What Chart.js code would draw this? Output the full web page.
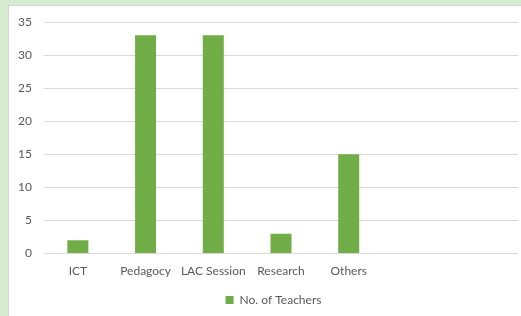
<!DOCTYPE html>
<html><head><meta charset="utf-8">
<script src="https://cdn.jsdelivr.net/npm/chart.js@4"></script>
<style>
html,body{margin:0;padding:0;background:#d5ecd0;width:521px;height:316px;overflow:hidden}
#wrap{position:absolute;left:8px;top:5px;width:513px;height:311px;background:#fff;border-left:1px solid #d4d4d4;border-top:1px solid #d4d4d4;box-sizing:border-box}
canvas{display:block}
</style></head><body>
<div id="wrap"><canvas id="c" width="512" height="310"></canvas></div>
<script>
const categories = ["ICT", "Pedagocy", "LAC Session", "Research", "Others", "", ""];
const teachers = [2, 33, 33, 3, 15, null, null];
const seriesName = "No. of Teachers";
const yTicks = [0, 5, 10, 15, 20, 25, 30, 35];

const FONT = "Lato, 'Liberation Sans', sans-serif";
const shiftLegend = {
  id: 'shiftLegend',
  afterLayout(chart) { if (chart.legend) { chart.legend.left += 10; chart.legend.right += 10; } }
};
new Chart(document.getElementById('c'), {
  type: 'bar',
  plugins: [shiftLegend],
  data: {
    labels: categories,
    datasets: [{
      label: seriesName,
      data: teachers,
      backgroundColor: '#70ad47',
      borderWidth: 0,
      categoryPercentage: 1,
      barPercentage: 0.31
    }]
  },
  options: {
    responsive: false,
    animation: false,
    layout: { padding: { top: 16, right: 3, bottom: 0, left: 0 } },
    plugins: {
      tooltip: { enabled: false },
      legend: {
        position: 'bottom',
        labels: {
          boxWidth: 8, boxHeight: 8, color: '#595959',
          font: { family: FONT, size: 12 }, padding: 8
        }
      }
    },
    scales: {
      x: {
        afterFit: s => { s.height += 6; },
        grid: { display: false },
        border: { display: false },
        ticks: { color: '#595959', font: { family: FONT, size: 12 }, padding: 2, maxRotation: 0, autoSkip: false }
      },
      y: {
        min: 0, max: 35,
        afterBuildTicks: s => { s.ticks = yTicks.map(v => ({ value: v })); },
        afterFit: s => { s.width = 35; s.paddingTop = 0; },
        grid: { color: '#d9d9d9', lineWidth: 1, drawTicks: false },
        border: { display: false },
        ticks: { color: '#595959', font: { family: FONT, size: 12 }, padding: 12 }
      }
    }
  }
});
</script>
</body></html>
